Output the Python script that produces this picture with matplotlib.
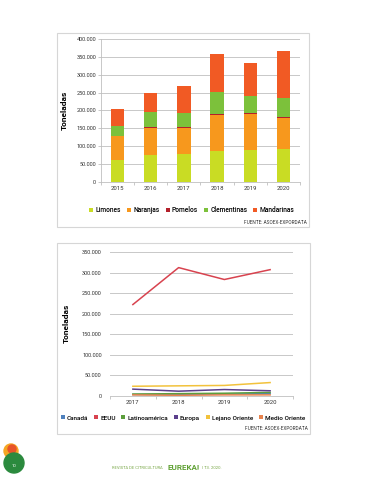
import matplotlib
matplotlib.use("Agg")
import matplotlib.pyplot as plt
import numpy as np
from matplotlib.patches import Rectangle, Ellipse, Patch

W, H = 368, 480
# ---------------- data ----------------
years1 = ["2015", "2016", "2017", "2018", "2019", "2020"]
limones = [60000, 75000, 77000, 87000, 89000, 92000]
naranjas = [67000, 75000, 74000, 100000, 100000, 87000]
pomelos = [2000, 3000, 2000, 2000, 3000, 3000]
clementinas = [28000, 42000, 40000, 63000, 49000, 52000]
mandarinas = [48000, 55000, 77000, 106000, 92000, 133000]
series1 = ["Limones", "Naranjas", "Pomelos", "Clementinas", "Mandarinas"]
colors1 = ["#c9dc24", "#f7981d", "#b3202b", "#7cc13b", "#f15a24"]

years2 = ["2017", "2018", "2019", "2020"]
canada = [3000, 3000, 4000, 5000]
eeuu = [222000, 312000, 283000, 307000]
latam = [4000, 5000, 6000, 8000]
europa = [16000, 11000, 15000, 12000]
lejano = [23000, 24000, 25000, 32000]
medio = [2000, 1000, 2000, 2000]
series2 = ["Canadá", "EEUU", "Latinoamérica", "Europa", "Lejano Oriente", "Medio Oriente"]
colors2 = ["#4f81bd", "#d8434f", "#5c9e3c", "#5b3f8c", "#f2c23c", "#e8834d"]

yt1 = [0, 50000, 100000, 150000, 200000, 250000, 300000, 350000, 400000]
yt2 = [0, 50000, 100000, 150000, 200000, 250000, 300000, 350000]

def fmt(v):
    return f"{v:,}".replace(",", ".")

fig = plt.figure(figsize=(W / 100, H / 100), dpi=100)
fig.patch.set_facecolor("white")

def fx(x): return x / W
def fy(y): return 1 - y / H

def frame(x0, y0, x1, y1):
    fig.patches.append(Rectangle((fx(x0), fy(y1)), fx(x1) - fx(x0), fy(y0) - fy(y1),
                                 transform=fig.transFigure, fill=False,
                                 edgecolor="#d6d6d6", lw=0.8))

FONT = "Roboto"
grid_c = "#bfbfbf"

# ---------------- chart 1 ----------------
frame(57, 33, 309, 227)
ax1 = fig.add_axes([fx(101), fy(181.7), fx(300) - fx(101), fy(39.3) - fy(181.7)])
x = np.arange(len(years1))
bottom = np.zeros(len(years1))
for name, vals, c in zip(series1, [limones, naranjas, pomelos, clementinas, mandarinas], colors1):
    ax1.bar(x, vals, 0.4, bottom=bottom, color=c, label=name, zorder=3)
    bottom += np.array(vals)
ax1.set_xlim(-0.5, len(years1) - 0.5)
ax1.set_ylim(0, 400000)
ax1.set_yticks(yt1)
ax1.set_yticklabels([fmt(v) for v in yt1], fontsize=4, family=FONT, color="#333333")
ax1.set_xticks(x)
ax1.set_xticklabels(years1, fontsize=4.3, family=FONT, color="#333333")
ax1.set_xticks(np.arange(-0.5, len(years1)), minor=True)
ax1.tick_params(axis="x", which="major", length=0, pad=3)
ax1.tick_params(axis="x", which="minor", length=2.5, color=grid_c, width=0.6)
ax1.tick_params(axis="y", length=2, color=grid_c, width=0.6, pad=1.5)
ax1.grid(axis="y", color=grid_c, lw=0.6, zorder=0)
for s in ["top", "right"]:
    ax1.spines[s].set_visible(False)
for s in ["left", "bottom"]:
    ax1.spines[s].set_color(grid_c)
    ax1.spines[s].set_linewidth(0.6)
ax1.set_ylabel("Toneladas", fontsize=6, family=FONT, weight="bold", labelpad=6)
ax1.legend(loc="center", bbox_to_anchor=(fx(192), fy(210)), bbox_transform=fig.transFigure,
           ncol=5, frameon=False, prop={"family": FONT, "size": 4.8, "weight": "medium"},
           handlelength=0.6, handleheight=0.6, handletextpad=0.35, columnspacing=0.9)
fig.text(fx(307), fy(222.7), "FUENTE: ASOEX-EXPORDATA", ha="right", va="center",
         fontsize=3.4, family=FONT, color="#333333")

# ---------------- chart 2 ----------------
frame(57, 243, 310, 434)
ax2 = fig.add_axes([fx(110), fy(395.7), fx(293) - fx(110), fy(252) - fy(395.7)])
x2 = np.arange(len(years2))
for name, vals, c in zip(series2, [canada, eeuu, latam, europa, lejano, medio], colors2):
    ax2.plot(x2, vals, color=c, lw=1.1, label=name, zorder=3)
ax2.set_xlim(-0.5, len(years2) - 0.5)
ax2.set_ylim(0, 350000)
ax2.set_yticks(yt2)
ax2.set_yticklabels([fmt(v) for v in yt2], fontsize=4, family=FONT, color="#333333")
ax2.set_xticks(x2)
ax2.set_xticklabels(years2, fontsize=4.3, family=FONT, color="#333333")
ax2.set_xticks(np.arange(-0.5, len(years2)), minor=True)
ax2.tick_params(axis="x", which="major", length=0, pad=3)
ax2.tick_params(axis="x", which="minor", length=2.5, color=grid_c, width=0.6)
ax2.tick_params(axis="y", length=0, pad=6)
ax2.grid(axis="y", color="#c8c8c8", lw=0.7, zorder=0)
for s in ["top", "right", "left"]:
    ax2.spines[s].set_visible(False)
ax2.spines["bottom"].set_color(grid_c)
ax2.spines["bottom"].set_linewidth(0.6)
ax2.set_ylabel("Toneladas", fontsize=6, family=FONT, weight="bold", labelpad=9)
handles2 = [Patch(facecolor=c, edgecolor="none", label=n) for n, c in zip(series2, colors2)]
ax2.legend(handles=handles2, loc="center", bbox_to_anchor=(fx(183), fy(418)),
           bbox_transform=fig.transFigure,
           ncol=6, frameon=False, prop={"family": FONT, "size": 4.6, "weight": "medium"},
           handlelength=0.6, handleheight=0.6, handletextpad=0.35, columnspacing=0.9)
fig.text(fx(308), fy(429), "FUENTE: ASOEX-EXPORDATA", ha="right", va="center",
         fontsize=3.4, family=FONT, color="#333333")

# ---------------- footer ----------------
fig.patches.append(Ellipse((fx(11), fy(451)), fx(14), fx(14) * W / H, transform=fig.transFigure,
                           color="#f5a623", zorder=1))
fig.patches.append(Ellipse((fx(12), fy(449)), fx(8), fx(8) * W / H, transform=fig.transFigure,
                           color="#e8542a", zorder=2))
fig.patches.append(Ellipse((fx(14), fy(463)), fx(20), fx(20) * W / H, transform=fig.transFigure,
                           color="#2b8a3e", zorder=3))
fig.text(fx(14), fy(466), "10", ha="center", va="center", fontsize=3, color="white", family=FONT)
fig.text(fx(112), fy(468), "REVISTA DE CITRICULTURA", ha="left", va="center",
         fontsize=3, color="#7aa84a", family=FONT)
fig.text(fx(168), fy(467), "EUREKA!", ha="left", va="center",
         fontsize=5.8, color="#5fa033", family=FONT, weight="bold")
fig.text(fx(202), fy(468), "| T3. 2020.", ha="left", va="center",
         fontsize=3, color="#7aa84a", family=FONT)

fig.savefig("out.png", dpi=100, facecolor="white")
